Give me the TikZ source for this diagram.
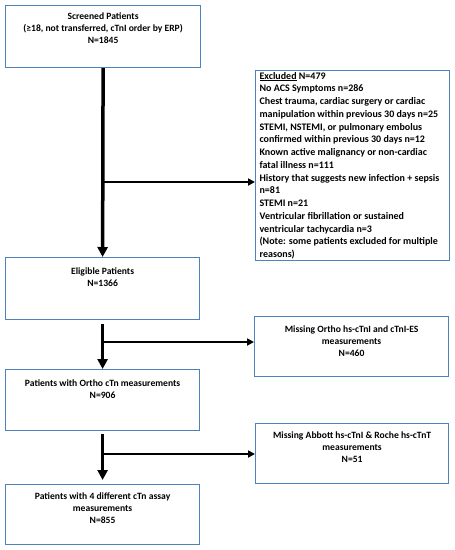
\documentclass[tikz,border=0pt]{standalone}
\usepackage{fontspec}
\setmainfont{Carlito}
\usetikzlibrary{arrows.meta}
\definecolor{boxblue}{RGB}{79,129,189}
\newcommand\bxc[4]{\parbox[c][#2pt][t]{#1pt}{\centering\rule{0pt}{#3pt}#4}}
\newcommand\bxl[4]{\parbox[c][#2pt][t]{#1pt}{\raggedright\leftskip=4pt\rule{0pt}{#3pt}#4}}
\tikzset{
  box/.style={draw=boxblue, line width=1.2pt, inner sep=0pt, anchor=north west,
    font=\fontsize{9.6}{12}\selectfont\bfseries},
  exbox/.style={box, font=\fontsize{10}{12.75}\selectfont\bfseries},
  mainarr/.style={line width=3.5pt, -{Triangle[length=10pt,width=10pt]}},
  brarr/.style={line width=1.8pt, -{Triangle[length=7pt,width=7pt]}}
}
\begin{document}
\begin{tikzpicture}[x=1pt,y=-1pt]
\useasboundingbox (0,0) rectangle (455,550);
\node[box] (scr) at (5,5) {\bxc{195}{62}{14}{Screened Patients\\(≥18, not transferred, cTnI order by ERP)\\N=1845}};
\node[exbox] (exc) at (255,70) {\bxl{194}{190}{8.5}{\underline{Excluded} N=479\\
No ACS Symptoms n=286\\
Chest trauma, cardiac surgery or cardiac\\
manipulation within previous 30 days n=25\\
STEMI, NSTEMI, or pulmonary embolus\\
confirmed within previous 30 days n=12\\
Known active malignancy or non-cardiac\\
fatal illness n=111\\
History that suggests new infection + sepsis\\
n=81\\
STEMI n=21\\
Ventricular fibrillation or sustained\\
ventricular tachycardia n=3\\
(Note: some patients excluded for multiple\\
reasons)}};
\node[box] (eli) at (5,257) {\bxc{194}{62}{16.5}{Eligible Patients\\N=1366}};
\node[box] (mo) at (254,316) {\bxc{194}{60}{15.5}{Missing Ortho hs-cTnI and cTnI-ES\\measurements\\N=460}};
\node[box] (pwo) at (5,369) {\bxc{194}{61}{16.5}{Patients with Ortho cTn measurements\\N=906}};
\node[box] (ma) at (255,423) {\bxc{193}{60}{14.5}{Missing Abbott hs-cTnI \& Roche hs-cTnT\\measurements\\N=51}};
\node[box] (p4) at (5,484) {\bxc{194}{60}{14.5}{Patients with 4 different cTn assay\\measurements\\N=855}};
\draw[mainarr] (scr.south) -- (eli.north);
\coordinate (b1) at (102,182);
\draw[brarr] (b1) -- (b1 -| exc.west);
\draw[mainarr, shorten <=4pt] (eli.south) -- (pwo.north);
\coordinate (b2) at (102,342);
\draw[brarr] (b2) -- (b2 -| mo.west);
\draw[mainarr, shorten <=3pt, shorten >=4pt] (pwo.south) -- (p4.north);
\coordinate (b3) at (102,454);
\draw[brarr] (b3) -- (b3 -| ma.west);
\end{tikzpicture}
\end{document}
